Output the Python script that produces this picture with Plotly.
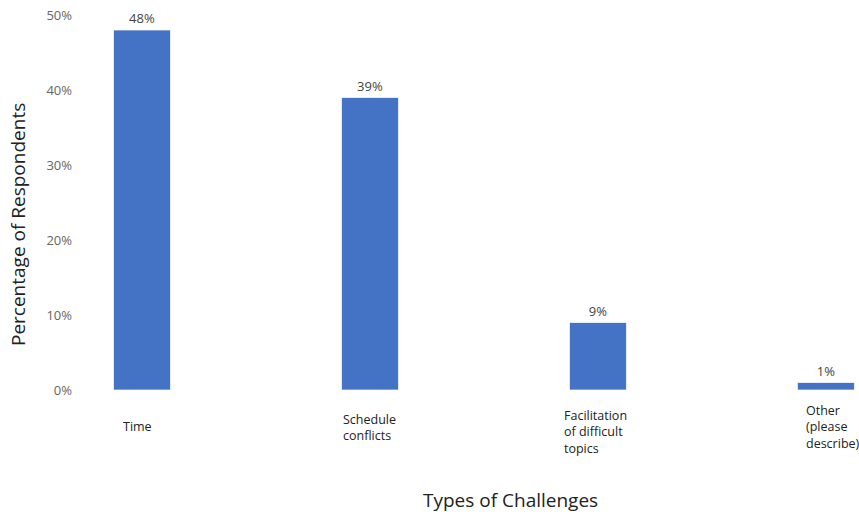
import plotly.graph_objects as go

# Survey results: share of respondents reporting each challenge
categories = ["Time", "Schedule conflicts", "Facilitation of difficult topics", "Other (please describe)"]
category_labels = ["Time", "Schedule<br>conflicts", "Facilitation<br>of difficult<br>topics", "Other<br>(please<br>describe)"]
percentages = [48, 39, 9, 1]
value_labels = ["48%", "39%", "9%", "1%"]
y_tick_values = [0, 10, 20, 30, 40, 50]
y_tick_text = ["0%", "10%", "20%", "30%", "40%", "50%"]

FONT = "Open Sans, Noto Sans, sans-serif"
x_pos = list(range(len(categories)))

fig = go.Figure(
    go.Bar(
        x=x_pos,
        y=percentages,
        width=0.25,
        text=value_labels,
        textposition="outside",
        textfont=dict(family=FONT, size=13, color="#444444"),
        cliponaxis=False,
        marker=dict(color="#4472C4", line=dict(color="rgba(255,255,255,0.7)", width=1)),
        hovertext=categories,
        showlegend=False,
    )
)

# Category names as left-aligned multi-line blocks under each bar
label_dx = [-5, 0, -2, 7]
label_dy = [-26, -27, -32, -27]
for xp, lab, dx, dy in zip(x_pos, category_labels, label_dx, label_dy):
    fig.add_annotation(
        x=xp, y=0, xref="x", yref="paper",
        text=lab, showarrow=False, align="left",
        xanchor="center", yanchor="middle", xshift=dx, yshift=dy,
        font=dict(family=FONT, size=12.5, color="#222222"),
    )

# Axis titles
fig.add_annotation(
    x=0.553, y=0, xref="paper", yref="paper",
    text="Types of Challenges", showarrow=False,
    xanchor="center", yanchor="middle", yshift=-100,
    font=dict(family=FONT, size=19, color="#222222"),
)
fig.add_annotation(
    x=0, y=0.443, xref="paper", yref="paper",
    text="Percentage of Respondents", showarrow=False, textangle=-90,
    xanchor="center", yanchor="middle", xshift=-62,
    font=dict(family=FONT, size=19, color="#222222"),
)

fig.update_layout(
    width=859, height=512,
    margin=dict(l=80, r=0, t=5, b=112),
    paper_bgcolor="white", plot_bgcolor="white",
    font=dict(family=FONT),
    xaxis=dict(
        range=[-0.272, 3.145],
        showticklabels=False, showgrid=False, zeroline=False, showline=False,
    ),
    yaxis=dict(
        range=[-1.333, 51.333],
        tickvals=y_tick_values, ticktext=y_tick_text,
        tickfont=dict(family=FONT, size=13, color="#666666"),
        ticklabelstandoff=7,
        showgrid=False, zeroline=False, showline=False,
    ),
)

fig.write_html("out.html")
